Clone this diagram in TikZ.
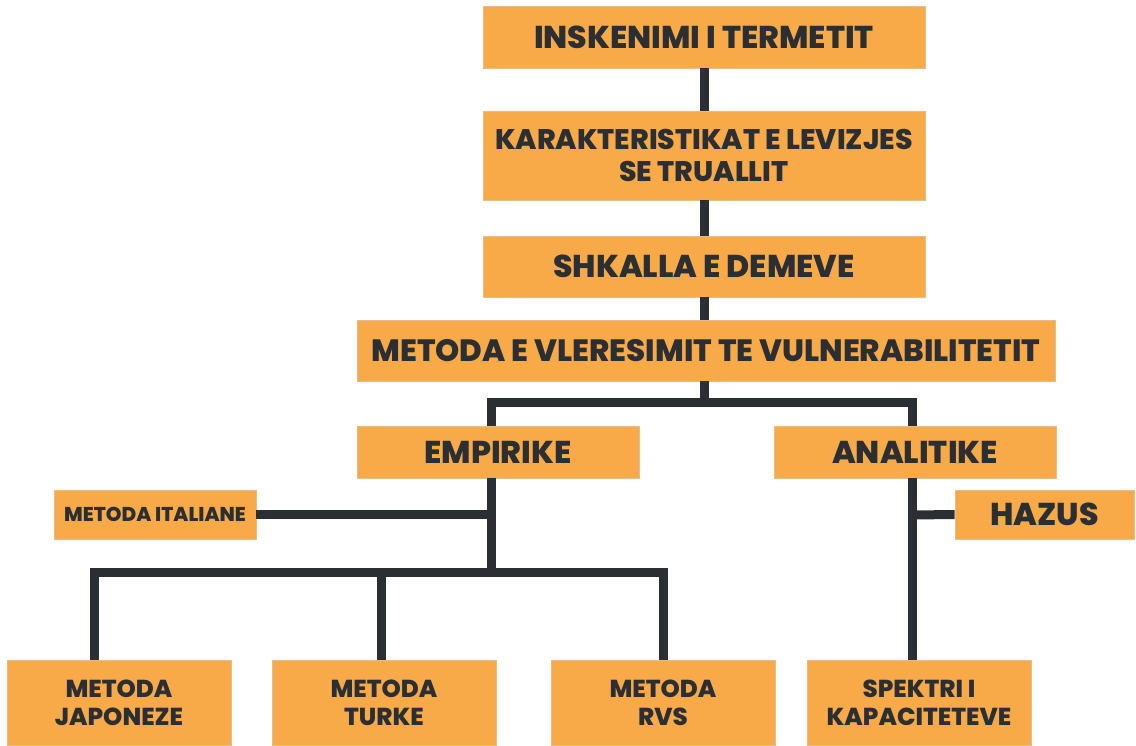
\documentclass[tikz,border=0pt]{standalone}
\usepackage{fontspec}
\setmainfont{Poppins}[BoldFont={Poppins ExtraBold}]
\usepackage{xcolor}
\usetikzlibrary{positioning,calc}

\definecolor{boxfill}{HTML}{F7AA47}
\definecolor{boxedge}{HTML}{E3BE8C}
\definecolor{ink}{HTML}{2B2F33}

\begin{document}
\begin{tikzpicture}[
    x=1pt, y=-1pt,
    box/.style={
        draw=boxedge,
        line width=0.8pt,
        fill=boxfill,
        text=ink,
        inner sep=0pt,
        align=center,
        font=\bfseries\fontsize{31.5}{36}\selectfont
    },
    wide/.style={box, minimum width=442, minimum height=62},
    mid/.style={box, minimum width=282, minimum height=52},
    leaf/.style={box, minimum width=224, minimum height=85,
        font=\bfseries\fontsize{24.5}{28}\selectfont},
    conn/.style={draw=ink, line width=9pt, line join=miter}
]
\useasboundingbox (0,0) rectangle (1136,745);

% junction points of the tree
\coordinate (split) at (704,402);
\coordinate (ecol) at (491,572);
\coordinate (acol) at (912,515);

% main chain
\node[wide] (inskenimi) at (704,37) {INSKENIMI I TERMETIT};
\node[wide, minimum height=89, font=\bfseries\fontsize{28.3}{32}\selectfont]
    (levizja) at (704,155.5) {KARAKTERISTIKAT E LEVIZJES\\SE TRUALLIT};
\node[wide, minimum height=61] (demet) at (704,266.5) {SHKALLA E DEMEVE};
\node[box, minimum width=698, minimum height=61,
    font=\bfseries\fontsize{30.8}{34}\selectfont] (vleresimi) at (706,350.5)
    {METODA E VLERESIMIT TE VULNERABILITETIT};

% two families
\node[mid] (empirike) at (498,452) {EMPIRIKE};
\node[mid] (analitike) at (915,452) {ANALITIKE};

% side boxes
\node[box, minimum width=202, minimum height=49,
    font=\bfseries\fontsize{20}{24}\selectfont] (italiane) at (155,514.5)
    {METODA ITALIANE};
\node[box, minimum width=179, minimum height=49] (hazus) at (1044.5,514.5) {HAZUS};

% bottom row
\node[leaf] (japoneze) at (119,702.5) {METODA\\JAPONEZE};
\node[leaf] (turke) at (384,702.5) {METODA\\TURKE};
\node[leaf] (rvs) at (663,702.5) {METODA\\RVS};
\node[leaf] (spektri) at (919,702.5) {SPEKTRI I\\KAPACITETEVE};

\draw[conn] (inskenimi) -- (levizja);
\draw[conn] (levizja) -- (demet);
\draw[conn] (demet.south) -- (demet.south |- vleresimi.north);
\draw[conn] (demet.south |- vleresimi.south) -- (split);
\draw[conn] (split) -| (empirike.north -| ecol);
\draw[conn] (split) -| (analitike.north -| acol);

% empirical side
\draw[conn] (empirike.south -| ecol) -- (ecol);
\draw[conn] (italiane.east) -- (italiane.east -| ecol);
\draw[conn] ([xshift=-25]japoneze.north) |- (ecol) -| (rvs.north);
\draw[conn] ([xshift=-3]turke.north) -- ([xshift=-3]turke.north |- ecol);

% analytical side
\draw[conn] (analitike.south -| acol) -- (spektri.north -| acol);
\draw[conn] (acol) -- (hazus.west);

\end{tikzpicture}
\end{document}
